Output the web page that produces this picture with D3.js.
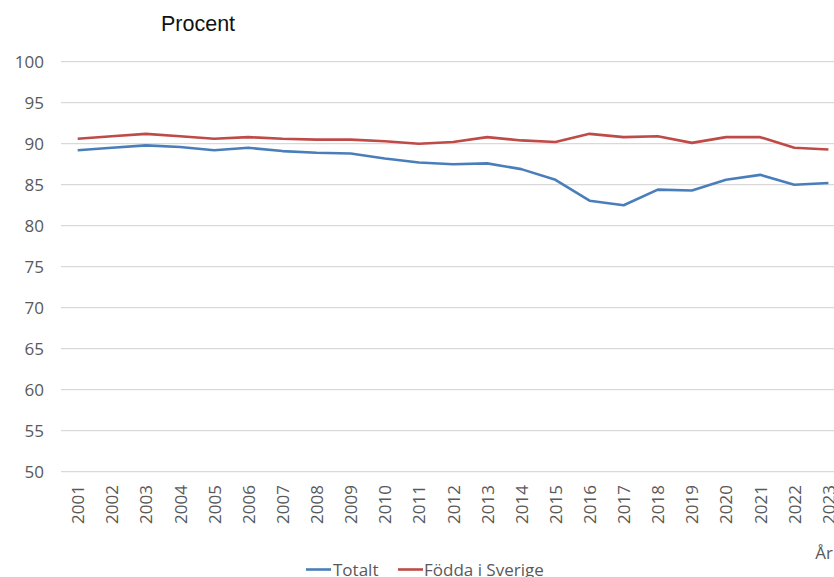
<!DOCTYPE html>
<html><head><meta charset="utf-8">
<script src="https://cdn.jsdelivr.net/npm/d3@7"></script>
<style>body{margin:0;background:#fff}svg{display:block}</style>
</head><body>
<script>
const years = ["2001","2002","2003","2004","2005","2006","2007","2008","2009","2010","2011","2012","2013","2014","2015","2016","2017","2018","2019","2020","2021","2022","2023"];
const totalt = [89.2,89.5,89.8,89.6,89.2,89.5,89.1,88.9,88.8,88.2,87.7,87.5,87.6,86.9,85.6,83.05,82.5,84.4,84.3,85.6,86.2,85.0,85.2];
const foddaISverige = [90.6,90.9,91.2,90.9,90.6,90.8,90.6,90.5,90.5,90.3,90.0,90.2,90.8,90.4,90.2,91.2,90.8,90.9,90.1,90.8,90.8,89.5,89.3];
const yTicks = [50,55,60,65,70,75,80,85,90,95,100];
const seriesNames = ["Totalt","Födda i Sverige"];
const colors = ["#4a7ebb","#be4b48"];

const W=834,H=577;
const svg=d3.select("body").append("svg").attr("width",W).attr("height",H);
const font="'Open Sans', sans-serif";
const x=d3.scalePoint().domain(years).range([77.7,828.4]);
const y=d3.scaleLinear().domain([50,100]).range([471.7,61.7]);

// gridlines
svg.append("g").selectAll("line").data(yTicks).join("line")
  .attr("x1",61).attr("x2",845).attr("y1",d=>y(d)).attr("y2",d=>y(d))
  .attr("stroke","#d9d9d9").attr("stroke-width",1.3);

// y axis labels
const ya=svg.append("g").attr("transform","translate(44,0)")
  .call(d3.axisLeft(y).tickValues(yTicks).tickSize(0).tickPadding(0));
ya.select(".domain").remove();
ya.selectAll("text").attr("font-family",font).attr("font-size",17).attr("fill","#595959").attr("dy","0.34em");

// x axis labels
const xa=svg.append("g").attr("transform","translate(0,472)")
  .call(d3.axisBottom(x).tickSize(0).tickPadding(0));
xa.select(".domain").remove();
xa.selectAll("text").attr("font-family",font).attr("font-size",17).attr("fill","#595959")
  .attr("text-anchor","end").attr("transform","rotate(-90)")
  .attr("x",-13).attr("y",0).attr("dy","0.35em");

// lines
const line=d3.line().x((d,i)=>x(years[i])).y(d=>y(d));
[totalt,foddaISverige].forEach((s,k)=>{
  svg.append("path").datum(s).attr("d",line).attr("fill","none")
    .attr("stroke",colors[k]).attr("stroke-width",2.6).attr("stroke-linejoin","round");
});

// title
svg.append("text").attr("x",161).attr("y",31).text("Procent")
  .attr("font-family","'Liberation Sans', Arial, sans-serif").attr("font-size",21.5).attr("fill","#111");

// axis title
svg.append("text").attr("x",833).attr("y",559).attr("text-anchor","end").text("År")
  .attr("font-family",font).attr("font-size",17).attr("fill","#595959");

// legend
const lg=[{x:306,tx:333},{x:398,tx:424}];
seriesNames.forEach((n,k)=>{
  svg.append("line").attr("x1",lg[k].x).attr("x2",lg[k].x+25).attr("y1",569.5).attr("y2",569.5)
    .attr("stroke",colors[k]).attr("stroke-width",2.6);
  svg.append("text").attr("x",lg[k].tx).attr("y",575.5).text(n)
    .attr("font-family",font).attr("font-size",17).attr("fill","#595959");
});
</script>
</body></html>
